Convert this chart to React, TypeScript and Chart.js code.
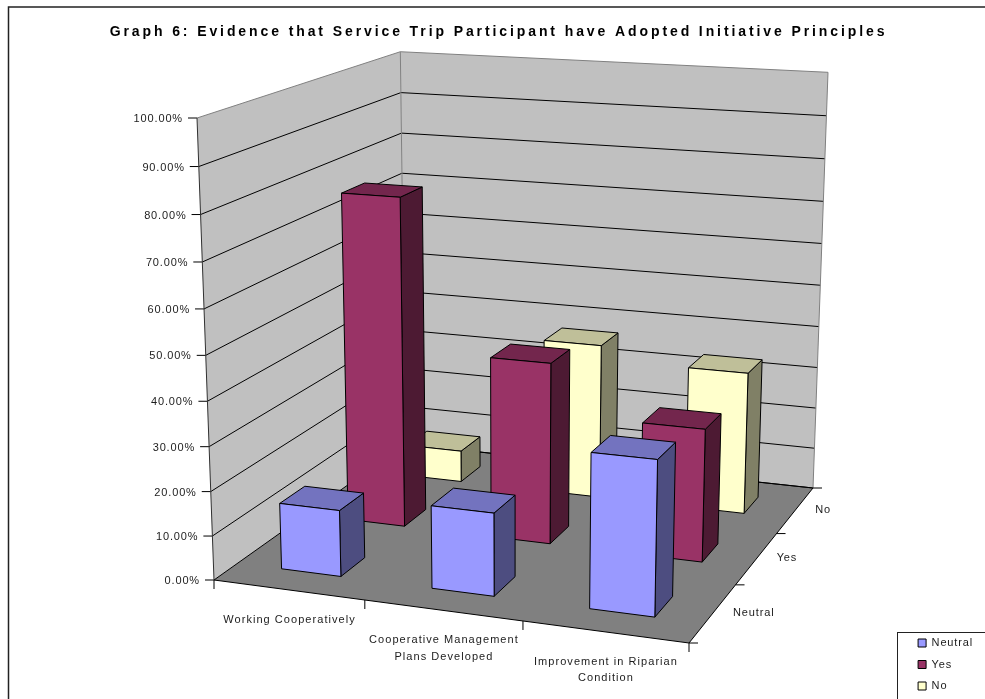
import React, { useEffect, useRef } from "react";
import { Chart, BarController, registerables } from "chart.js";

// Chart content
const titleText = "Graph 6: Evidence that Service Trip Participant have Adopted Initiative Principles";
const categories = [
  "Working Cooperatively",
  "Cooperative Management Plans Developed",
  "Improvement in Riparian Condition",
];
const seriesNames = ["Neutral", "Yes", "No"];
const neutralValues = [15, 18.5, 34];
const yesValues = [76.6, 41.9, 30.4];
const noValues = [7.7, 37.2, 33.8];
const seriesColors = ["#9999FF", "#993366", "#FFFFCC"];

// Where the unit cube's corners land on the canvas: [width axis, depth axis, height axis]
const CUBE = {
  origin: [214, 580],
  right: [689, 643],
  backRight: [813, 488],
  back: [405.5, 444],
  up: [197, 118],
  topBackRight: [828, 73],
};
const BAR_DEPTH = 0.36;
const INK = "#1c1c1c";
const LABEL_SPACING = "0.85px";
const CATEGORY_SPACING = "1.05px";
const TITLE_SPACING = "2.9px";

type Pt = [number, number];

function det3(m: number[][]) {
  return (
    m[0][0] * (m[1][1] * m[2][2] - m[1][2] * m[2][1]) -
    m[0][1] * (m[1][0] * m[2][2] - m[1][2] * m[2][0]) +
    m[0][2] * (m[1][0] * m[2][1] - m[1][1] * m[2][0])
  );
}

// Perspective camera as a 3x4 matrix solved from the cube corners.
function buildCamera() {
  const { origin: A, right: B, backRight: C, back: D, up: E, topBackRight: G } = CUBE;
  const col = (p: number[]) => [p[0], p[1], 1];
  const [a, b, c, d] = [col(A), col(B), col(C), col(D)];
  const matrix = [0, 1, 2].map((r) => [b[r], d[r], -c[r]]);
  const base = det3(matrix);
  const weight = (k: number) => {
    const m = matrix.map((row, r) => row.map((v, j) => (j === k ? a[r] : v)));
    return det3(m) / base;
  };
  const alpha = weight(0);
  const beta = weight(1);
  const delta = weight(2);
  const gamma = (G[0] * (delta - 1) - delta * C[0] + A[0]) / (E[0] - G[0]);
  const e = col(E);
  const p1 = b.map((v, r) => alpha * v - a[r]);
  const p2 = d.map((v, r) => beta * v - a[r]);
  const p3 = e.map((v, r) => gamma * v - a[r]);
  return (u: number, v: number, w: number): Pt => {
    const h = [0, 1, 2].map((r) => p1[r] * u + p2[r] * v + p3[r] * w + a[r]);
    return [h[0] / h[2], h[1] / h[2]];
  };
}
const project = buildCamera();

function shade(hex: string, f: number) {
  const n = parseInt(hex.slice(1), 16);
  const ch = (s: number) => Math.round(((n >> s) & 255) * f);
  return `rgb(${ch(16)},${ch(8)},${ch(0)})`;
}

function polygon(ctx: CanvasRenderingContext2D, pts: Pt[], fill: string | null, stroke: string | null, lw = 1) {
  ctx.beginPath();
  pts.forEach((p, i) => (i ? ctx.lineTo(p[0], p[1]) : ctx.moveTo(p[0], p[1])));
  ctx.closePath();
  if (fill) {
    ctx.fillStyle = fill;
    ctx.fill();
  }
  if (stroke) {
    ctx.strokeStyle = stroke;
    ctx.lineWidth = lw;
    ctx.stroke();
  }
}

function segment(ctx: CanvasRenderingContext2D, a: Pt, b: Pt, stroke: string, lw = 1) {
  ctx.beginPath();
  ctx.moveTo(a[0], a[1]);
  ctx.lineTo(b[0], b[1]);
  ctx.strokeStyle = stroke;
  ctx.lineWidth = lw;
  ctx.stroke();
}

// Bar type whose elements keep the normal layout but paint as perspective boxes.
class Bar3DController extends BarController {
  static id = "bar3d";
  static defaults = { ...BarController.defaults };
  static overrides = BarController.overrides;

  draw() {
    const chart = this.chart;
    const ctx = chart.ctx;
    const area = chart.chartArea;
    const meta = this.getMeta();
    const depthScale = chart.scales.depth;
    const color = seriesColors[this.index];
    const center = (depthScale.getPixelForValue(this.index) - area.left) / area.width;
    const slot = (depthScale.getPixelForValue(1) - depthScale.getPixelForValue(0)) / area.width;
    const v0 = center - (slot * BAR_DEPTH) / 2;
    const v1 = center + (slot * BAR_DEPTH) / 2;
    ctx.save();
    ctx.lineJoin = "round";
    meta.data.forEach((bar: any) => {
      const u0 = (bar.x - bar.width / 2 - area.left) / area.width;
      const u1 = (bar.x + bar.width / 2 - area.left) / area.width;
      const w0 = (area.bottom - bar.base) / area.height;
      const w1 = (area.bottom - bar.y) / area.height;
      const side: Pt[] = [project(u1, v0, w0), project(u1, v1, w0), project(u1, v1, w1), project(u1, v0, w1)];
      const top: Pt[] = [project(u0, v0, w1), project(u1, v0, w1), project(u1, v1, w1), project(u0, v1, w1)];
      const front: Pt[] = [project(u0, v0, w0), project(u1, v0, w0), project(u1, v0, w1), project(u0, v0, w1)];
      polygon(ctx, side, shade(color, 0.5), "#000");
      polygon(ctx, top, shade(color, 0.75), "#000");
      polygon(ctx, front, color, "#000");
    });
    ctx.restore();
  }
}

function wrapLabel(ctx: CanvasRenderingContext2D, text: string, maxWidth: number) {
  const lines: string[] = [];
  let line = "";
  text.split(" ").forEach((word) => {
    const next = line ? `${line} ${word}` : word;
    if (ctx.measureText(next).width > maxWidth && line) {
      lines.push(line);
      line = word;
    } else {
      line = next;
    }
  });
  lines.push(line);
  return lines;
}

// Outer border plus letter spacing for all canvas text; the title gets a wider one.
const outerFrame = {
  id: "outerFrame",
  beforeUpdate(chart: any) {
    chart.ctx.letterSpacing = LABEL_SPACING;
  },
  beforeDraw(chart: any) {
    const ctx = chart.ctx;
    ctx.letterSpacing = LABEL_SPACING;
    const block = chart.titleBlock;
    if (block && !block.$spaced) {
      const drawTitle = block.draw;
      block.draw = function () {
        ctx.letterSpacing = TITLE_SPACING;
        drawTitle.call(block);
        ctx.letterSpacing = LABEL_SPACING;
      };
      block.$spaced = true;
    }
    ctx.save();
    ctx.strokeStyle = "#222";
    ctx.lineWidth = 1.5;
    ctx.strokeRect(8.5, 7, chart.width + 20, chart.height + 20);
    ctx.restore();
  },
};

// Walls, floor, gridlines, axis ticks and axis labels in cube space.
const cubeAxes = {
  id: "cubeAxes",
  beforeDatasetsDraw(chart: any) {
    const ctx: CanvasRenderingContext2D = chart.ctx;
    const area = chart.chartArea;
    const y = chart.scales.y;
    const x = chart.scales.x;
    const depth = chart.scales.depth;
    const toW = (value: number) => (area.bottom - y.getPixelForValue(value)) / area.height;
    const toU = (pixel: number) => (pixel - area.left) / area.width;

    ctx.save();
    ctx.font = "11px 'Liberation Sans', Arial, sans-serif";
    ctx.fillStyle = INK;

    polygon(ctx, [project(0, 0, 0), project(0, 1, 0), project(0, 1, 1), project(0, 0, 1)], "#C0C0C0", null);
    polygon(ctx, [project(0, 1, 0), project(1, 1, 0), project(1, 1, 1), project(0, 1, 1)], "#C0C0C0", null);
    polygon(ctx, [project(0, 0, 0), project(1, 0, 0), project(1, 1, 0), project(0, 1, 0)], "#808080", null);

    // Value gridlines and tick labels
    ctx.textAlign = "right";
    ctx.textBaseline = "middle";
    y.ticks.forEach((tick: any) => {
      const w = toW(tick.value);
      const isEdge = tick.value === 100;
      const a = project(0, 0, w);
      const b = project(0, 1, w);
      const c = project(1, 1, w);
      segment(ctx, a, b, isEdge ? "#808080" : "#000");
      segment(ctx, b, c, isEdge ? "#808080" : "#000");
      segment(ctx, [a[0] - 9, a[1]], a, "#000");
      ctx.fillStyle = INK;
      ctx.fillText(tick.label, a[0] - 14, a[1] + 1);
    });

    // Wall edges
    segment(ctx, project(0, 1, 0), project(0, 1, 1), "#808080");
    segment(ctx, project(1, 1, 0), project(1, 1, 1), "#808080");
    segment(ctx, project(0, 0, 0), project(0, 0, 1), "#303030");

    // Floor edges
    segment(ctx, project(0, 0, 0), project(1, 0, 0), "#000");
    segment(ctx, project(1, 0, 0), project(1, 1, 0), "#000");
    segment(ctx, project(0, 1, 0), project(1, 1, 0), "#000");

    // Category ticks and labels along the front edge
    const n = categories.length;
    for (let i = 0; i <= n; i++) {
      const p = project(i / n, 0, 0);
      segment(ctx, p, [p[0], p[1] + 9], "#000");
    }
    ctx.textAlign = "center";
    ctx.textBaseline = "middle";
    ctx.fillStyle = INK;
    ctx.letterSpacing = CATEGORY_SPACING;
    categories.forEach((label, i) => {
      const p = project(toU(x.getPixelForValue(i)), 0, 0);
      wrapLabel(ctx, label, 175).forEach((line, k) => {
        ctx.fillText(line, p[0] + 1, p[1] + 30 + k * 16.5);
      });
    });
    ctx.letterSpacing = LABEL_SPACING;

    // Series ticks and labels along the right edge
    const m = seriesNames.length;
    for (let i = 0; i <= m; i++) {
      const p = project(1, i / m, 0);
      segment(ctx, p, [p[0] + 9, p[1]], "#000");
    }
    ctx.textAlign = "left";
    seriesNames.forEach((label, i) => {
      const p = project(1, toU(depth.getPixelForValue(i)), 0);
      ctx.fillText(label, p[0] + 20, p[1]);
    });

    // Legend frame, running off the canvas like the outer border
    ctx.strokeStyle = "#222";
    ctx.lineWidth = 1;
    ctx.strokeRect(897.5, 632.5, 120, 120);
    ctx.restore();
  },
};

export default function App() {
  const canvasRef = useRef<HTMLCanvasElement | null>(null);

  useEffect(() => {
    Chart.register(...registerables, Bar3DController);
    const chart = new Chart(canvasRef.current as HTMLCanvasElement, {
      type: "bar3d" as any,
      plugins: [outerFrame, cubeAxes],
      data: {
        labels: categories,
        datasets: [neutralValues, yesValues, noValues].map((values, i) => ({
          label: seriesNames[i],
          data: values,
          backgroundColor: seriesColors[i],
          borderColor: "#000",
          borderWidth: 1,
          grouped: false,
          clip: false,
          barPercentage: 0.4,
          categoryPercentage: 1,
        })),
      },
      options: {
        responsive: false,
        animation: false,
        layout: { padding: { left: 14, right: 2, top: 0, bottom: -3 } },
        scales: {
          x: { type: "category", display: false, offset: true },
          y: {
            type: "linear",
            display: false,
            min: 0,
            max: 100,
            ticks: { stepSize: 10, callback: (v: any) => `${Number(v).toFixed(2)}%` },
          },
          depth: { type: "category", axis: "x", labels: seriesNames, display: false, offset: true },
        } as any,
        plugins: {
          tooltip: { enabled: false },
          title: {
            display: true,
            text: titleText,
            color: "#000",
            font: { family: "'Liberation Sans', Arial, sans-serif", size: 14, weight: "bold" },
            padding: { top: 24, bottom: 10 },
          },
          legend: {
            display: true,
            position: "right",
            align: "end",
            labels: {
              boxWidth: 8,
              boxHeight: 8,
              padding: 10.5,
              color: INK,
              font: { family: "'Liberation Sans', Arial, sans-serif", size: 11 },
            },
          },
        },
      } as any,
    });
    return () => chart.destroy();
  }, []);

  return (
    <div style={{ position: "fixed", inset: 0, background: "#fff", overflow: "hidden" }}>
      <canvas ref={canvasRef} width={985} height={699} style={{ display: "block" }} />
    </div>
  );
}
